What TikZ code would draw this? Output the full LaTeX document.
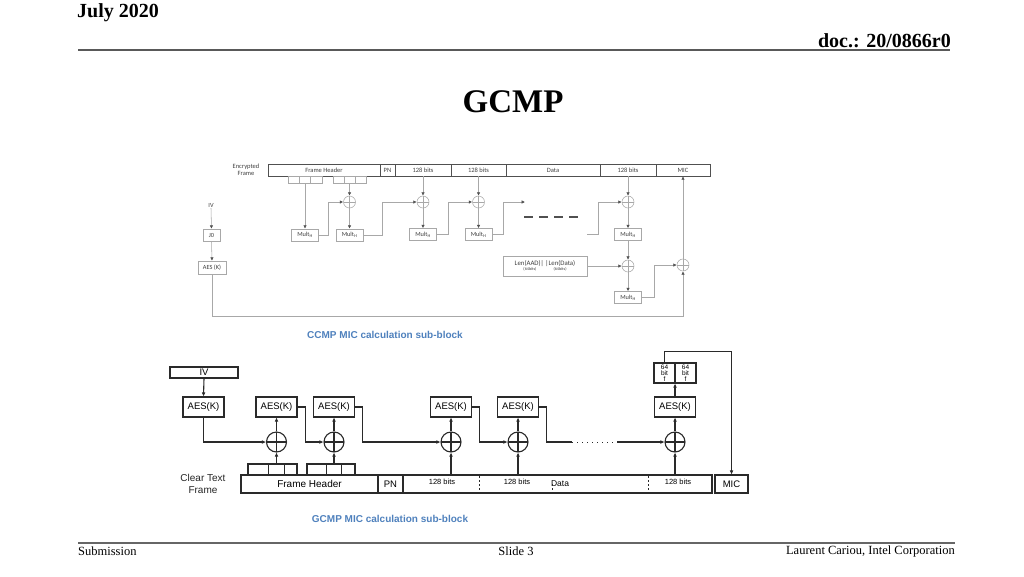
\documentclass[tikz,border=0pt]{standalone}
\usepackage{fontspec}
\setmainfont{Liberation Serif}
\newfontfamily\arial{Liberation Sans}
\newfontfamily\calib{Carlito}
\usetikzlibrary{arrows.meta,calc}
\definecolor{tline}{HTML}{A8A8A8}
\definecolor{tdark}{HTML}{505050}
\definecolor{bline}{HTML}{2A2A2A}
\definecolor{sbblue}{HTML}{4F81BD}
\begin{document}
\begin{tikzpicture}[x=1pt,y=-1pt,
  tl/.style={draw=tline, line width=0.55pt},
  tarr/.style={tl, -{Latex[length=3.4pt,width=3.4pt,color=tdark,fill=tdark]}},
  tbox/.style={draw=tline, fill=white, inner sep=0pt, line width=0.55pt, font=\calib\fontsize{6.3}{7}\selectfont, text=black!75},
  tmult/.style={tbox, minimum width=27, minimum height=12},
  tseg/.style={draw=tdark, line width=0.6pt, inner sep=0pt, minimum height=12, font=\calib\fontsize{6.5}{7}\selectfont, text=black!75},
  tcell/.style={draw=tline, line width=0.55pt, inner sep=0pt, minimum width=11, minimum height=7},
  txor/.style={circle, draw=tline, line width=0.55pt, minimum size=12, inner sep=0pt,
    path picture={\draw[tline, line width=0.55pt] (path picture bounding box.north) -- (path picture bounding box.south) (path picture bounding box.west) -- (path picture bounding box.east);}},
  bl/.style={draw=bline, line width=1.1pt},
  barr/.style={bl, -{Latex[length=4pt,width=3.8pt]}},
  bbox/.style={draw=bline, line width=1.1pt, fill=white, inner sep=0pt, font=\arial\fontsize{9.5}{11}\selectfont},
  baes/.style={bbox, minimum width=41, minimum height=20},
  bcell/.style={bbox, minimum height=11},
  bseg/.style={bbox, minimum height=18},
  bxor/.style={circle, draw=bline, line width=1.1pt, minimum size=20, inner sep=0pt,
    path picture={\draw[bline, line width=1.1pt] (path picture bounding box.north) -- (path picture bounding box.south) (path picture bounding box.west) -- (path picture bounding box.east);}},
  blab/.style={font=\arial\fontsize{7.5}{9}\selectfont, inner sep=0pt},
  sblab/.style={font=\arial\bfseries\fontsize{10}{12}\selectfont, text=sbblue}
]
\useasboundingbox (0,0) rectangle (1024,576);
\fill[white] (0,0) rectangle (1024,576);

% header / footer
\node[anchor=west, font=\bfseries\fontsize{20}{24}\selectfont, inner sep=0pt] (date) at (77,13) {July 2020};
\node[anchor=east, font=\bfseries\fontsize{20}{24}\selectfont, inner sep=0pt] (doc) at (951,41) {doc.: 20/0866r0};
\draw[line width=1.6pt, black!65] (78,50) -- (950,50);
\node[font=\bfseries\fontsize{33}{36}\selectfont, inner sep=0pt] (title) at (513,102) {GCMP};
\draw[line width=1.6pt, black!60] (78,543) -- (955,543);
\node[anchor=west, font=\fontsize{12.5}{14}\selectfont, inner sep=0pt] (sub) at (78,551.5) {Submission};
\node[font=\fontsize{12.5}{14}\selectfont, inner sep=0pt] (slide) at (516,551.5) {Slide 3};
\node[anchor=east, font=\fontsize{12.5}{14}\selectfont, inner sep=0pt] (auth) at (955,551.5) {Laurent Cariou, Intel Corporation};

% ===== top diagram =====
\node[font=\calib\fontsize{6.5}{7.5}\selectfont, align=center, text=black!75, inner sep=0pt] (enc) at (246,170) {Encrypted\\Frame};
\node[tseg, minimum width=112] (fh) at (324,170) {Frame Header};
\node[tseg, minimum width=15] (pn) at (387.5,170) {PN};
\node[tseg, minimum width=56] (t1) at (423,170) {128 bits};
\node[tseg, minimum width=55] (t2) at (478.5,170) {128 bits};
\node[tseg, minimum width=94] (tdata) at (553,170) {Data};
\node[tseg, minimum width=56] (t3) at (628,170) {128 bits};
\node[tseg, minimum width=54] (tmic) at (683,170) {MIC};

\node[tcell, minimum width=11.3] (c11) at (293.7,180) {};
\node[tcell, minimum width=11.3] (c12) at (305,180) {};
\node[tcell, minimum width=11.3] (c13) at (316.3,180) {};
\node[tcell] (c21) at (338.5,180) {};
\node[tcell] (c22) at (349.5,180) {};
\node[tcell] (c23) at (360.5,180) {};

\node[txor] (tx1) at (349.5,202) {};
\node[txor] (tx2) at (423,202) {};
\node[txor] (tx3) at (478.5,202) {};
\node[txor] (tx4) at (628,202) {};
\node[txor] (tx5) at (628,266) {};
\node[txor] (tx6) at (683,265) {};

\node[tmult] (tm1) at (305,235) {Mult\textsubscript{H}};
\node[tmult] (tm2) at (349.5,235) {Mult\textsubscript{H}};
\node[tmult] (tm3) at (423,234.5) {Mult\textsubscript{H}};
\node[tmult] (tm4) at (478.5,234.5) {Mult\textsubscript{H}};
\node[tmult] (tm5) at (628,234.5) {Mult\textsubscript{H}};
\node[tmult] (tm6) at (628,297.5) {Mult\textsubscript{H}};

\node[tbox, minimum width=84, minimum height=20, align=center, font=\calib\fontsize{6.8}{7}\selectfont] (len) at (545,266)
  {Len(AAD)| |Len(Data)\\[-1.5pt]{\fontsize{4.2}{5}\selectfont (64bits)\hspace{17pt}(64bits)}};

\node[font=\calib\fontsize{6.3}{7}\selectfont, text=black!75, inner sep=1pt] (iv) at (211,205) {IV};
\node[tbox, minimum width=17, minimum height=12] (j0) at (211.5,235) {J0};
\node[tbox, minimum width=28, minimum height=13] (taes) at (212,267.5) {AES (K)};

\coordinate (ta) at (525,202);
\coordinate (tb) at (587,234.5);

\draw[tarr] (c12.south) -- (tm1.north);
\draw[tarr] (c22.south) -- (tx1.north);
\draw[tarr] (tx1.south) -- (tm2.north);
\draw[tarr] (tm1.east) -- ++(9.5,0) |- (tx1.west);
\draw[tarr] (tm2.east) -- ++(19,0) |- (tx2.west);
\draw[tarr] (t1.south) -- (tx2.north);
\draw[tarr] (tx2.south) -- (tm3.north);
\draw[tarr] (tm3.east) -- ++(11.5,0) |- (tx3.west);
\draw[tarr] (t2.south) -- (tx3.north);
\draw[tarr] (tx3.south) -- (tm4.north);
\draw[tarr] (tm4.east) -- ++(11,0) |- (ta);
\draw[tarr] (tb) -- ++(11,0) |- (tx4.west);
\draw[tarr] (t3.south) -- (tx4.north);
\draw[tarr] (tx4.south) -- (tm5.north);
\draw[tarr] (tm5.south) -- (tx5.north);
\draw[tarr] (len.east) -- (tx5.west);
\draw[tarr] (tx5.south) -- (tm6.north);
\draw[tarr] (tm6.east) -- ++(12.5,0) |- (tx6.west);
\draw[tarr] (iv.south) -- (j0.north);
\draw[tarr] (j0.south) -- (taes.north);
\draw[tarr] (taes.south) -- (212,316) -| (tx6.south);
\draw[tarr] (tx6.north) -- (tmic.south);
\draw[tdark, line width=1.3pt, dash pattern=on 9pt off 6pt] (524,217) -- (578,217);

\node[sblab] (lab1) at (385,335) {CCMP MIC calculation sub-block};

% ===== bottom diagram =====
\node[bbox, minimum width=68, minimum height=11] (biv) at (204,372.5) {IV};
\node[baes] (ba1) at (203.5,407) {AES(K)};
\node[baes] (ba2) at (276.5,407) {AES(K)};
\node[baes] (ba3) at (334,407) {AES(K)};
\node[baes] (ba4) at (451,407) {AES(K)};
\node[baes] (ba5) at (518,407) {AES(K)};
\node[baes] (ba6) at (675,407) {AES(K)};

\node[bxor] (bx1) at (276.5,442) {};
\node[bxor] (bx2) at (334,442) {};
\node[bxor] (bx3) at (451,442) {};
\node[bxor] (bx4) at (518,442) {};
\node[bxor] (bx5) at (675,442) {};

\node[bbox, minimum width=21, minimum height=20, align=center, font=\arial\fontsize{6.5}{5.8}\selectfont] (b64a) at (664.5,373) {64\\bit\\f};
\node[bbox, minimum width=21, minimum height=20, align=center, font=\arial\fontsize{6.5}{5.8}\selectfont] (b64b) at (685.5,373) {64\\bit\\f};

\node[bcell, minimum width=20.75] (g1a) at (258.4,469.5) {};
\node[bcell, minimum width=15.5] (g1b) at (276.5,469.5) {};
\node[bcell, minimum width=12.75] (g1c) at (290.6,469.5) {};
\node[bcell, minimum width=19.5] (g2a) at (316.75,469.5) {};
\node[bcell, minimum width=15] (g2b) at (334,469.5) {};
\node[bcell, minimum width=13.5] (g2c) at (348.25,469.5) {};

\node[bseg, minimum width=137, font=\arial\fontsize{10}{11}\selectfont] (bfh) at (309.5,484) {Frame Header};
\node[bseg, minimum width=25] (bpn) at (390.5,484) {PN};
\node[bseg, minimum width=309] (bdata) at (557.5,484) {};
\node[bseg, minimum width=33] (bmic) at (731.5,484) {MIC};
\node[blab] (l1) at (442,482) {128 bits};
\node[blab] (l2) at (517,482) {128 bits};
\node[blab, font=\arial\fontsize{8.5}{9}\selectfont] (l3) at (560,484) {Data};
\node[blab] (l4) at (678,482) {128 bits};
\draw[bline, line width=0.8pt, dash pattern=on 2pt off 2pt] (479,476) -- (479,492);
\draw[bline, line width=0.8pt, dash pattern=on 2pt off 2pt] (552,484) -- (552,492);
\draw[bline, line width=0.8pt, dash pattern=on 2pt off 2pt] (648,476) -- (648,492);

\node[font=\arial\fontsize{10}{12}\selectfont, align=center, inner sep=0pt, text=black!85] (clr) at (203,484) {Clear Text\\Frame};

\coordinate (bd1) at (572,442);
\coordinate (bd2) at (617,442);

\draw[barr] (biv.south) -- (ba1.north);
\draw[barr] (ba1.south) |- (bx1.west);
\draw[barr] (g1b.north) -- (bx1.south);
\draw[barr] (bx1.north) -- (ba2.south);
\draw[barr] (ba2.east) -- ++(7.5,0) |- (bx2.west);
\draw[barr] (g2b.north) -- (bx2.south);
\draw[barr] (bx2.north) -- (ba3.south);
\draw[barr] (ba3.east) -- ++(7.5,0) |- (bx3.west);
\draw[barr] (bx3 |- bdata.north) -- (bx3.south);
\draw[barr] (bx3.north) -- (ba4.south);
\draw[barr] (ba4.east) -- ++(7.5,0) |- (bx4.west);
\draw[barr] (bx4 |- bdata.north) -- (bx4.south);
\draw[barr] (bx4.north) -- (ba5.south);
\draw[bl] (ba5.east) -- ++(7.5,0) |- (bd1);
\draw[bline, line width=0.9pt, dash pattern=on 1pt off 4pt] (bd1) -- (bd2);
\draw[barr] (bd2) -- (bx5.west);
\draw[barr] (bx5 |- bdata.north) -- (bx5.south);
\draw[barr] (bx5.north) -- (ba6.south);
\draw[barr] (ba6.north) -- (ba6.north |- b64a.south);
\draw[barr] (b64a.north) -- ++(0,-11) -| (bmic.north);

\node[sblab] (lab2) at (390,519) {GCMP MIC calculation sub-block};
\end{tikzpicture}
\end{document}
